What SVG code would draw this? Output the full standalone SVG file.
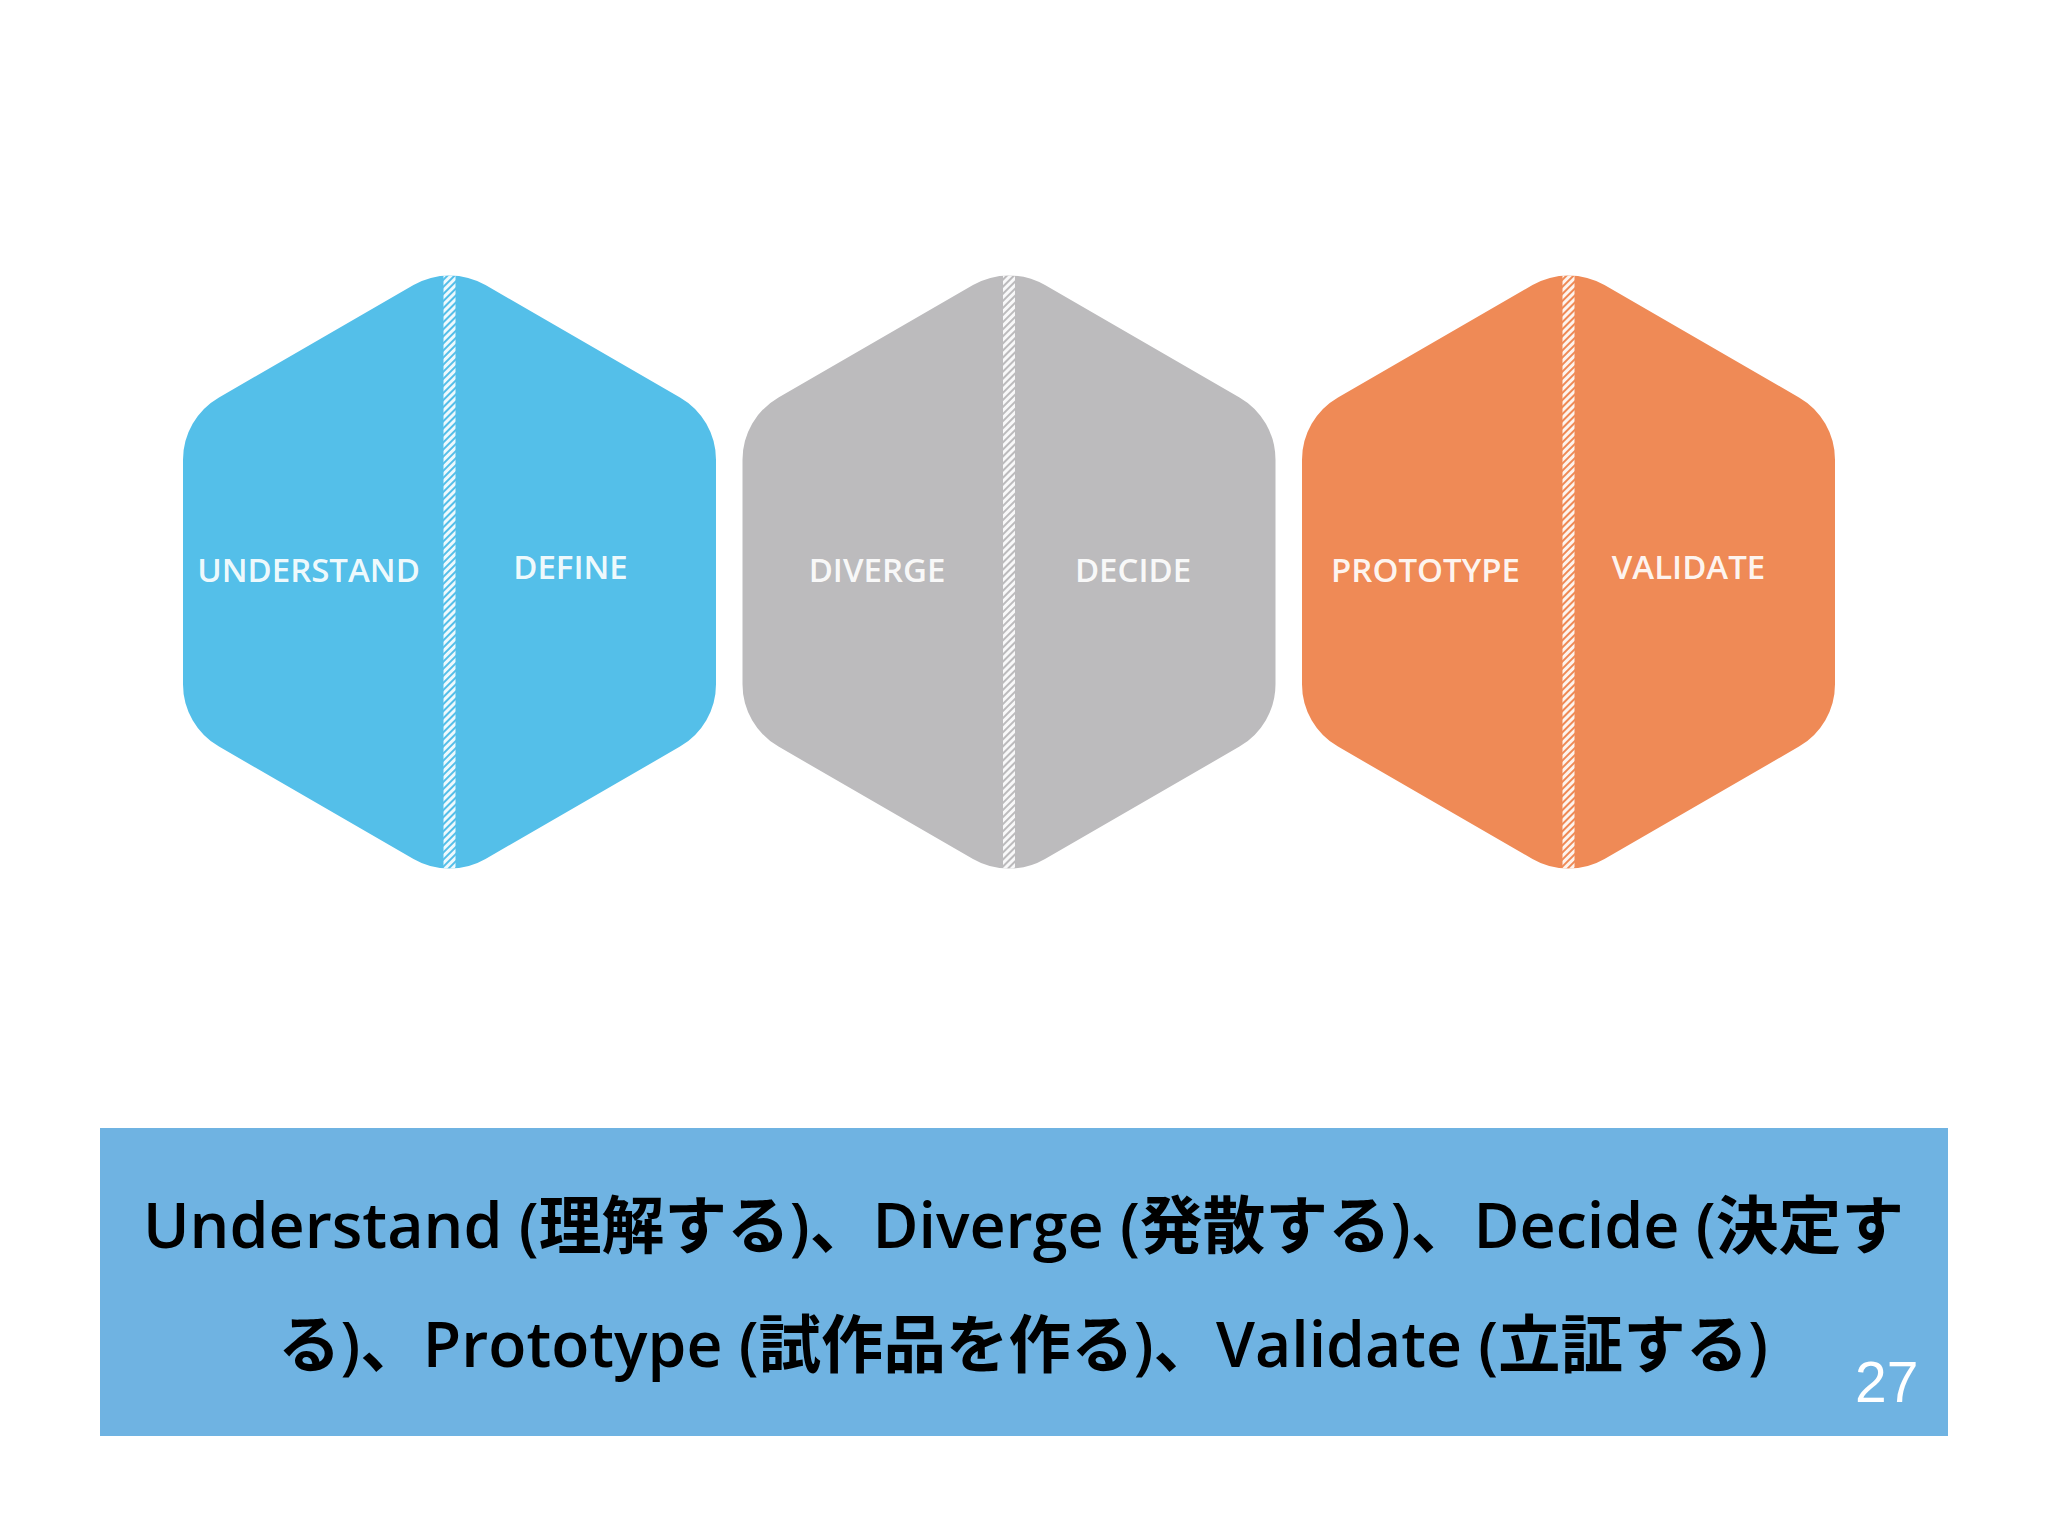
<svg xmlns="http://www.w3.org/2000/svg" xmlns:xlink="http://www.w3.org/1999/xlink" width="2048" height="1536" viewBox="0 0 2048 1536">
  <defs>
    <path id="hex" d="M36,-286.9 L230.5,-174.6 A72,72 0 0 1 266.5,-112.2 L266.5,112.2 A72,72 0 0 1 230.5,174.6 L36,286.9 A72,72 0 0 1 -36,286.9 L-230.5,174.6 A72,72 0 0 1 -266.5,112.2 L-266.5,-112.2 A72,72 0 0 1 -230.5,-174.6 L-36,-286.9 A72,72 0 0 1 36,-286.9 Z"/>
    <clipPath id="hexclip">
      <use xlink:href="#hex" href="#hex"/>
    </clipPath>
    <pattern id="hatch" patternUnits="userSpaceOnUse" width="5" height="5" patternTransform="rotate(45)">
      <rect x="0" y="0" width="3" height="5" fill="#ffffff" fill-opacity="0.9"/>
    </pattern>
    <style>
      .lbl { font-family: "Open Sans", "Liberation Sans", sans-serif; font-size: 33px; font-weight: 600; fill: #ffffff; fill-opacity: 0.93; text-anchor: middle; }
      .cap { font-family: "Open Sans", "Noto Sans CJK JP", sans-serif; font-size: 63px; font-weight: 600; fill: #000000; text-anchor: middle; }
      .num { font-family: "Liberation Sans", Arial, sans-serif; font-size: 57px; fill: #ffffff; }
    </style>
  </defs>
  <rect x="0" y="0" width="2048" height="1536" fill="#ffffff"/>

  <g id="hex-understand-define" transform="translate(449.5,572)">
    <use xlink:href="#hex" href="#hex" fill="#54BFE9"/>
    <rect x="-6" y="-310" width="12" height="620" fill="url(#hatch)" clip-path="url(#hexclip)"/>
    <text class="lbl" x="-141" y="10">UNDERSTAND</text>
    <text class="lbl" x="121" y="7">DEFINE</text>
  </g>

  <g id="hex-diverge-decide" transform="translate(1009,572)">
    <use xlink:href="#hex" href="#hex" fill="#BCBBBD"/>
    <rect x="-6" y="-310" width="12" height="620" fill="url(#hatch)" clip-path="url(#hexclip)"/>
    <text class="lbl" x="-132" y="10">DIVERGE</text>
    <text class="lbl" x="124" y="10">DECIDE</text>
  </g>

  <g id="hex-prototype-validate" transform="translate(1568.5,572)">
    <use xlink:href="#hex" href="#hex" fill="#EF8A56"/>
    <rect x="-6" y="-310" width="12" height="620" fill="url(#hatch)" clip-path="url(#hexclip)"/>
    <text class="lbl" x="-143" y="10">PROTOTYPE</text>
    <text class="lbl" x="120" y="7">VALIDATE</text>
  </g>

  <g id="caption">
    <rect x="100" y="1128" width="1848" height="308" fill="#6FB3E2"/>
    <text class="cap" x="1023.5" y="1248" textLength="1761" lengthAdjust="spacingAndGlyphs">Understand (理解する)、Diverge (発散する)、Decide (決定す</text>
    <text class="cap" x="1023" y="1367" textLength="1490" lengthAdjust="spacingAndGlyphs">る)、Prototype (試作品を作る)、Validate (立証する)</text>
    <text class="num" x="1855" y="1402">27</text>
  </g>

  <g id="connectors"></g>
</svg>
